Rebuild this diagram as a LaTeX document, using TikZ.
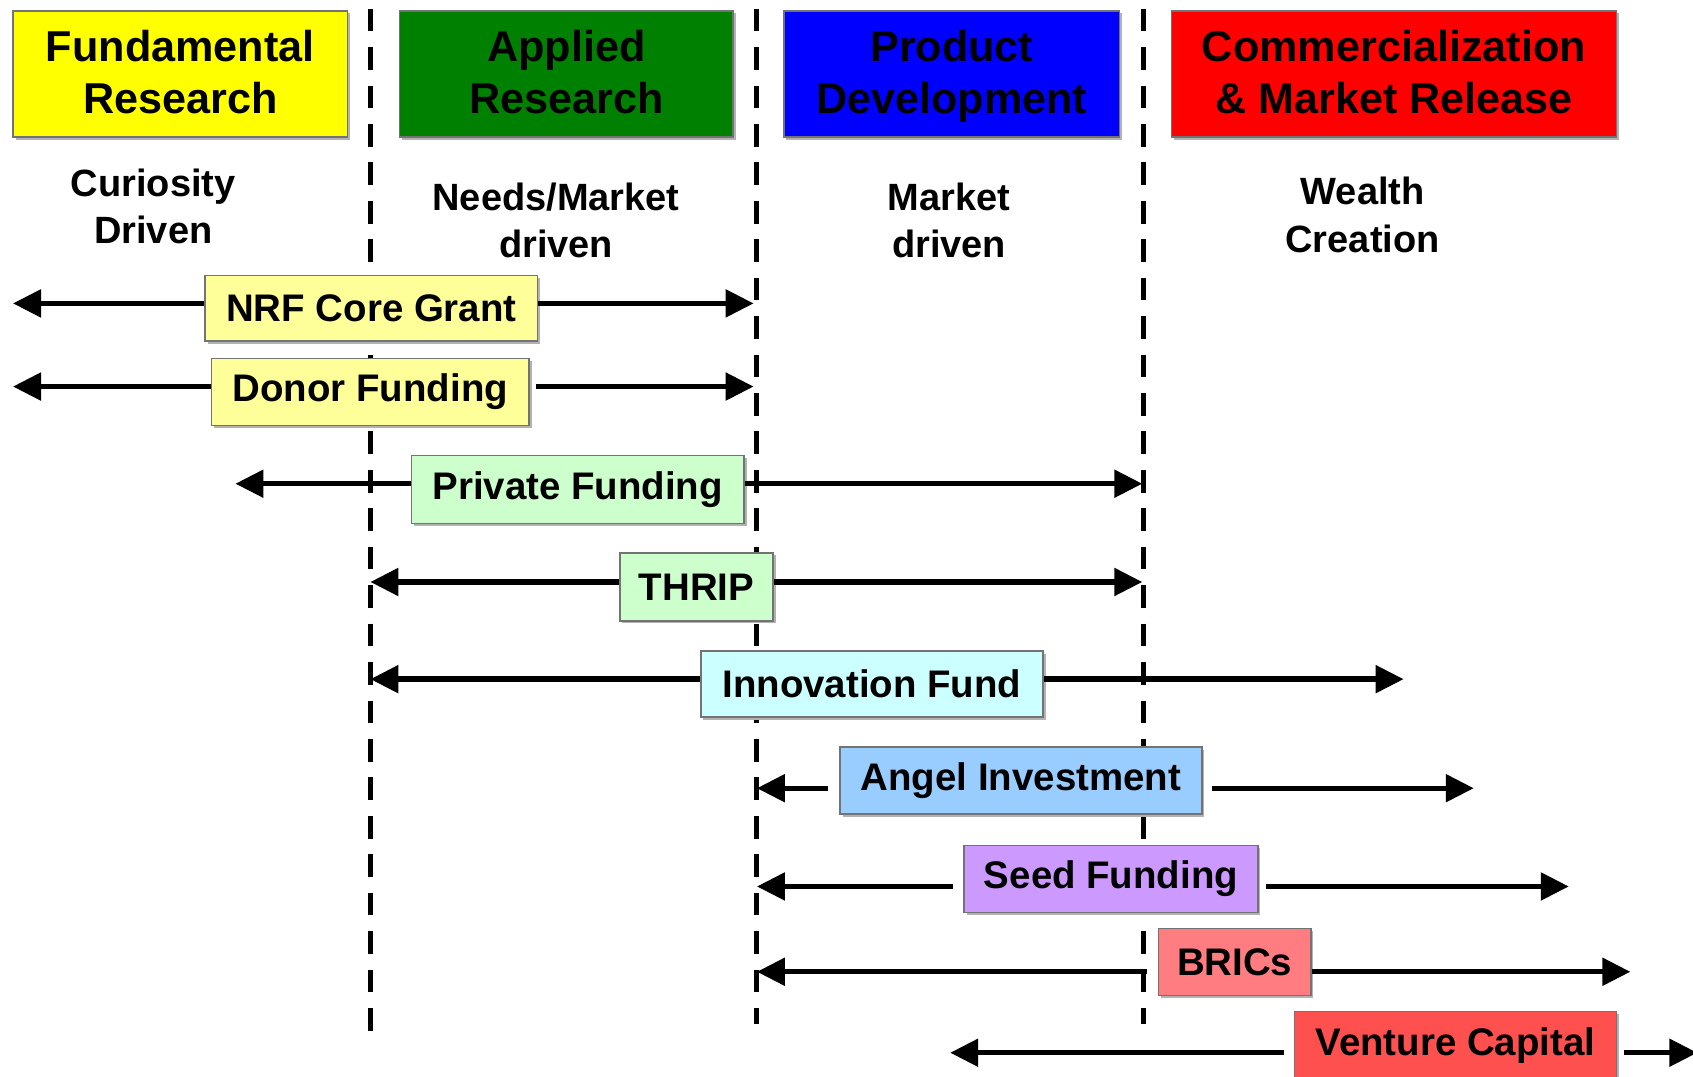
\documentclass[tikz,border=0pt]{standalone}
\usepackage{fontspec}
\setmainfont{Liberation Sans}
\usetikzlibrary{arrows.meta,shadows}
\definecolor{hdyellow}{HTML}{FFFF00}
\definecolor{hdgreen}{HTML}{008000}
\definecolor{hdblue}{HTML}{0000FF}
\definecolor{hdred}{HTML}{FF0000}
\definecolor{fyellow}{HTML}{FFFF99}
\definecolor{fgreen}{HTML}{CCFFCC}
\definecolor{fcyan}{HTML}{CCFFFF}
\definecolor{fblue}{HTML}{99CCFF}
\definecolor{fviolet}{HTML}{CC99FF}
\definecolor{fsalmon}{HTML}{FF7C80}
\definecolor{fcoral}{HTML}{FF5050}
% fixed line height/depth for the two-line headings
\newcommand\hdline{\rule[-4.2pt]{0pt}{21pt}}
\begin{document}
\begin{tikzpicture}[x=0.5pt,y=-0.5pt,
  shade box/.style={draw=black!55, line width=0.7pt, inner sep=0pt,
    drop shadow={shadow xshift=1.2pt,shadow yshift=-1.2pt,fill=black!30,opacity=1}},
  phase/.style={shade box, align=center,
    font=\fontsize{20}{24}\selectfont\bfseries},
  note/.style={align=center, font=\fontsize{17.6}{22}\selectfont\bfseries},
  fund/.style={shade box, font=\fontsize{17.8}{21}\selectfont\bfseries},
  divider/.style={line width=2.4pt, dash pattern=on 10.5pt off 7.3pt},
  span/.style={line width=2.5pt, -{Triangle[length=13pt,width=12.5pt]}}]

\useasboundingbox (0,0) rectangle (1568,997);
\clip (0,0) rectangle (1568,997);
\fill[white] (0,0) rectangle (1568,997);

% stage dividers
\coordinate (d1t) at (343,8);  \coordinate (d1b) at (343,960);
\coordinate (d2t) at (701,8);  \coordinate (d2b) at (701,948);
\coordinate (d3t) at (1059,8); \coordinate (d3b) at (1059,948);
\draw[divider] (d1t) -- (d1b);
\draw[divider] (d2t) -- (d2b);
\draw[divider] (d3t) -- (d3b);

% stage headings
\node[phase, fill=hdyellow, minimum width=155pt, minimum height=58.5pt] (fr) at (167,68.5) {Fundamental\hdline\\Research\hdline};
\node[phase, fill=hdgreen, minimum width=154.5pt, minimum height=58.5pt] (ar) at (524.5,68.5) {Applied\hdline\\Research\hdline};
\node[phase, fill=hdblue, minimum width=155.5pt, minimum height=58.5pt] (pd) at (881.5,68.5) {Product\hdline\\Development\hdline};
\node[phase, fill=hdred, minimum width=206pt, minimum height=58.5pt] (cm) at (1291,68.5) {Commercialization\hdline\\\& Market Release\hdline};

% stage drivers
\node[note] (n1) at (142,191) {Curiosity\\Driven};
\node[note] (n2) at (515,204) {Needs/Market\\driven};
\node[note] (n3) at (879,204) {Market\\driven};
\node[note] (n4) at (1262,199) {Wealth\\Creation};

% funding instruments
\node[fund, fill=fyellow, minimum width=154pt, minimum height=30.5pt] (nrf) at (344,285.5) {NRF Core Grant};
\node[fund, fill=fyellow, minimum width=147pt, minimum height=31pt] (donor) at (343,363) {Donor Funding};
\node[fund, fill=fgreen, minimum width=154pt, minimum height=31.5pt] (priv) at (535,453.5) {Private Funding};
\node[fund, fill=fgreen, minimum width=71pt, minimum height=31.5pt] (thrip) at (645,543.5) {THRIP};
\node[fund, fill=fcyan, minimum width=158.5pt, minimum height=30.5pt] (innov) at (807.5,633.5) {Innovation Fund};
\node[fund, fill=fblue, minimum width=167.5pt, minimum height=31pt] (angel) at (945.5,723) {Angel Investment};
\node[fund, fill=fviolet, minimum width=136pt, minimum height=31pt] (seed) at (1029,814) {Seed Funding};
\node[fund, fill=fsalmon, minimum width=70.5pt, minimum height=31pt] (brics) at (1143.5,891) {BRICs};
\node[fund, fill=fcoral, minimum width=149pt, minimum height=31pt] (vc) at (1348,968) {Venture Capital};

% ranges of each instrument
\coordinate (nrfL) at (12,281);     \coordinate (nrfR) at (698,281);
\coordinate (donorL) at (12,358);   \coordinate (donorR) at (698,358);
\coordinate (privL) at (218,448);   \coordinate (privR) at (1058,448);
\coordinate (thripL) at (343,539);  \coordinate (thripR) at (1058,539);
\coordinate (innovL) at (343,629);  \coordinate (innovR) at (1300,629);
\coordinate (angelL) at (701,730);  \coordinate (angelR) at (1365,730);
\coordinate (seedL) at (701,821);   \coordinate (seedR) at (1453,821);
\coordinate (bricsL) at (701,900);  \coordinate (bricsR) at (1510,900);
\coordinate (vcL) at (880,975);     \coordinate (vcR) at (1572,975);

\draw[span] (nrf.west |- nrfL) -- (nrfL);
\draw[span] (nrf.east |- nrfR) -- (nrfR);
\draw[span] (donor.west |- donorL) -- (donorL);
\draw[span, shorten <=3pt] (donor.east |- donorR) -- (donorR);
\draw[span] (priv.west |- privL) -- (privL);
\draw[span] (priv.east |- privR) -- (privR);
\draw[span] (thrip.west |- thripL) -- (thripL);
\draw[span] (thrip.east |- thripR) -- (thripR);
\draw[span] (innov.west |- innovL) -- (innovL);
\draw[span] (innov.east |- innovR) -- (innovR);
\draw[span, shorten <=5pt] (angel.west |- angelL) -- (angelL);
\draw[span, shorten <=4.5pt] (angel.east |- angelR) -- (angelR);
\draw[span, shorten <=5pt] (seed.west |- seedL) -- (seedL);
\draw[span, shorten <=3.5pt] (seed.east |- seedR) -- (seedR);
\draw[span, shorten <=5pt] (brics.west |- bricsL) -- (bricsL);
\draw[span] (brics.east |- bricsR) -- (bricsR);
\draw[span, shorten <=4.5pt] (vc.west |- vcL) -- (vcL);
\draw[span, shorten <=3pt] (vc.east |- vcR) -- (vcR);

\end{tikzpicture}
\end{document}
